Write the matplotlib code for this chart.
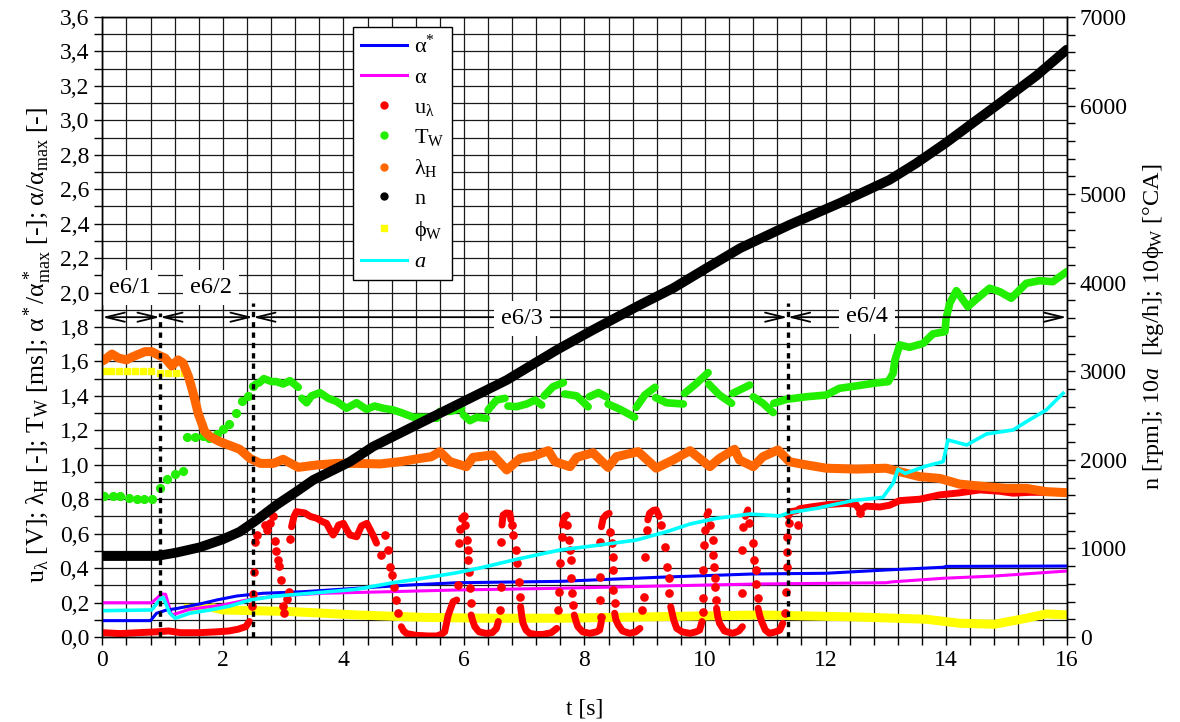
import numpy as np
import matplotlib
matplotlib.use("Agg")
import matplotlib.pyplot as plt
from matplotlib.ticker import MultipleLocator, FuncFormatter
from matplotlib.lines import Line2D

plt.rcParams['font.family'] = ['Liberation Serif', 'DejaVu Serif']
plt.rcParams['mathtext.fontset'] = 'custom'
plt.rcParams['mathtext.rm'] = 'Liberation Serif'
plt.rcParams['mathtext.it'] = 'Liberation Serif:italic'
plt.rcParams['mathtext.bf'] = 'Liberation Serif:bold'

# ---------------- measured series ----------------
# alpha* (blue)
as_t = [0.02, 0.80, 0.90, 1.07, 1.23, 1.62, 1.90, 2.23, 2.67, 3.33, 4.22, 5.10, 5.88, 7.59,
        9.25, 10.8, 12.0, 13.0, 13.95, 14.0, 16.0]
as_v = [0.095, 0.095, 0.138, 0.157, 0.165, 0.192, 0.215, 0.238, 0.254, 0.263, 0.283, 0.302,
        0.315, 0.323, 0.347, 0.366, 0.370, 0.389, 0.405, 0.410, 0.412]

# alpha (magenta)
al_t = [0.02, 0.82, 0.92, 0.98, 1.05, 1.15, 1.23, 1.45, 2.0, 2.45, 2.89, 3.67, 4.77, 5.88,
        7.59, 9.25, 10.9, 13.0, 13.1, 13.95, 14.8, 16.0]
al_v = [0.199, 0.199, 0.230, 0.250, 0.248, 0.128, 0.136, 0.161, 0.186, 0.219, 0.238, 0.254,
        0.263, 0.273, 0.283, 0.296, 0.308, 0.315, 0.320, 0.341, 0.354, 0.383]

# u_lambda (red): dense runs (NaN separates runs) and single samples on the fast edges
ul_run_t = [0.0, 0.3, 0.6, 0.9, 1.1, 1.3, 1.6, 1.9, 2.1, 2.25, 2.38, 2.44, np.nan,
            3.14, 3.18, 3.22, 3.36, 3.45, 3.56, 3.65, 3.72, 3.78, 3.83, 3.88, 3.92, 4.0, 4.06,
            4.11, 4.22, 4.30, 4.39, 4.45, 4.49, 4.55, np.nan,
            4.96, 5.0, 5.05, 5.2, 5.4, 5.55, 5.62, 5.68, 5.74, 5.82, 5.88, np.nan,
            6.12, 6.14, 6.18, 6.25, 6.37, 6.47, 6.54, 6.57, np.nan,
            6.63, 6.65, 6.70, 6.76, 6.78, np.nan,
            6.94, 6.96, 6.98, 7.03, 7.09, 7.2, 7.31, 7.45, 7.54, np.nan,
            7.63, 7.67, 7.71, np.nan,
            7.83, 7.86, 7.89, 7.97, 8.09, 8.2, 8.25, 8.28, np.nan,
            8.28, 8.31, 8.36, 8.41, np.nan,
            8.50, 8.52, 8.56, 8.63, 8.75, 8.85, 8.92, np.nan,
            9.05, 9.08, 9.14, 9.19, 9.24, np.nan,
            9.43, 9.48, 9.53, 9.62, 9.75, 9.85, 9.91, 9.95, np.nan,
            10.03, 10.06, np.nan,
            10.19, 10.21, 10.24, 10.32, 10.46, 10.56, 10.62, np.nan,
            10.67, 10.71, np.nan,
            10.88, 10.91, 10.94, 11.0, 11.07, 11.17, 11.24, 11.29, np.nan,
            11.38, 11.42, 11.52, 11.57, 11.79, 12.07, 12.34, 12.50, 12.57, 12.67, 12.9, 13.06,
            13.23, 13.56, 13.89, 14.22, 14.56, 14.89, 15.11, 15.4, 16.0]
ul_run_v = [0.025, 0.02, 0.025, 0.03, 0.035, 0.025, 0.025, 0.03, 0.035, 0.045, 0.06, 0.09, np.nan,
            0.64, 0.70, 0.728, 0.72, 0.70, 0.689, 0.67, 0.66, 0.62, 0.592, 0.62, 0.65, 0.66, 0.62,
            0.592, 0.582, 0.645, 0.66, 0.62, 0.592, 0.545, np.nan,
            0.06, 0.035, 0.02, 0.01, 0.006, 0.006, 0.015, 0.03, 0.128, 0.205, 0.215, np.nan,
            0.128, 0.10, 0.06, 0.03, 0.021, 0.025, 0.05, 0.09, np.nan,
            0.65, 0.708, 0.72, 0.718, 0.68, np.nan,
            0.176, 0.12, 0.08, 0.04, 0.021, 0.015, 0.015, 0.025, 0.05, np.nan,
            0.65, 0.699, 0.708, np.nan,
            0.128, 0.09, 0.06, 0.03, 0.021, 0.03, 0.04, 0.09, np.nan,
            0.64, 0.689, 0.71, 0.718, np.nan,
            0.138, 0.10, 0.07, 0.035, 0.021, 0.03, 0.05, np.nan,
            0.68, 0.718, 0.735, 0.738, 0.70, np.nan,
            0.176, 0.099, 0.05, 0.03, 0.021, 0.03, 0.04, 0.09, np.nan,
            0.708, 0.728, np.nan,
            0.167, 0.12, 0.08, 0.035, 0.021, 0.035, 0.06, np.nan,
            0.70, 0.738, np.nan,
            0.167, 0.12, 0.089, 0.04, 0.021, 0.03, 0.04, 0.08, np.nan,
            0.70, 0.728, 0.733, 0.745, 0.757, 0.77, 0.776, 0.77, 0.735, 0.76, 0.755, 0.765,
            0.792, 0.80, 0.825, 0.837, 0.854, 0.846, 0.835, 0.84, 0.84]
ul_dot_t = [2.48, 2.50, 2.52, 2.54, 2.56, 2.64, 2.70, 2.73, 2.78, 2.83, 2.86, 2.88, 2.92, 2.93,
            2.96, 2.99, 3.02, 3.06, 3.09, 3.11,
            4.63, 4.69, 4.74, 4.77, 4.80, 4.84, 4.87, 4.91,
            5.90, 5.92, 5.93, 5.97, 6.0, 6.02, 6.05, 6.06, 6.07, 6.09, 6.10, 6.11,
            6.59, 6.61, 6.62,
            6.79, 6.81, 6.87, 6.88, 6.91, 6.93,
            7.56, 7.58, 7.59, 7.62,
            7.71, 7.75, 7.76, 7.77, 7.78, 7.80, 7.81,
            8.28, 8.25, 8.26, 8.25,
            8.42, 8.46, 8.47, 8.47, 8.48, 8.50,
            8.96, 8.99, 9.0, 9.03,
            9.27, 9.33, 9.37, 9.41, 9.41,
            9.97, 9.97, 9.97, 9.98, 10.0,
            10.09, 10.13, 10.14, 10.15, 10.16, 10.17, 10.18,
            10.62, 10.62, 10.63,
            10.73, 10.80, 10.82, 10.84, 10.85, 10.88,
            11.32, 11.35, 11.36, 11.36, 11.36,
            11.40, 11.55, 12.57]
ul_dot_v = [0.18, 0.25, 0.38, 0.55, 0.59, 0.70, 0.65, 0.62, 0.66, 0.70, 0.56, 0.50, 0.45, 0.41,
            0.33, 0.18, 0.14, 0.22, 0.26, 0.567,
            0.476, 0.592, 0.505, 0.408, 0.36, 0.292, 0.215, 0.138,
            0.30, 0.544, 0.63, 0.69, 0.70, 0.65, 0.563, 0.505, 0.447, 0.379, 0.283, 0.196,
            0.157, 0.292, 0.553,
            0.65, 0.592, 0.505, 0.427, 0.321, 0.234,
            0.157, 0.263, 0.428, 0.582,
            0.65, 0.563, 0.505, 0.447, 0.341, 0.254, 0.186,
            0.118, 0.215, 0.35, 0.553,
            0.612, 0.544, 0.466, 0.389, 0.273, 0.196,
            0.157, 0.234, 0.466, 0.621,
            0.65, 0.524, 0.408, 0.341, 0.254,
            0.147, 0.225, 0.389, 0.534, 0.621,
            0.65, 0.563, 0.476, 0.408, 0.341, 0.292, 0.215,
            0.254, 0.505, 0.64,
            0.66, 0.544, 0.447, 0.389, 0.31, 0.225,
            0.138, 0.263, 0.408, 0.495, 0.582,
            0.66, 0.65, 0.72]

# T_W (green): single samples at the start, dense runs afterwards
tw_dot_t = [0.03, 0.17, 0.30, 0.44, 0.57, 0.70, 0.83, 0.96, 1.08, 1.21, 1.34, 1.41, 1.53, 1.67,
            1.77, 1.90, 2.00, 2.11, 2.21, 2.32, 2.42, 2.50]
tw_dot_v = [0.82, 0.82, 0.82, 0.81, 0.80, 0.80, 0.80, 0.867, 0.92, 0.947, 0.966, 1.163, 1.163,
            1.167, 1.154, 1.179, 1.206, 1.237, 1.30, 1.372, 1.40, 1.458]
tw_run_t = [2.55, 2.60, 2.68, 2.81, 2.89, 3.0, 3.11, 3.18, 3.25, np.nan,
            3.31, 3.39, 3.47, 3.61, 3.75, 3.89, 4.05, 4.22, 4.38, 4.52, 4.66, 4.83, 4.99, 5.16,
            5.38, 5.55, 5.60, 5.77, 5.96, np.nan,
            5.99, 6.10, 6.21, 6.37, np.nan,
            6.40, 6.54, 6.68, np.nan,
            6.73, 6.87, 7.04, 7.18, 7.29, np.nan,
            7.33, 7.48, 7.65, np.nan,
            7.67, 7.87, 8.06, np.nan,
            8.08, 8.23, 8.36, np.nan,
            8.39, 8.59, 8.83, np.nan,
            8.86, 9.0, 9.17, np.nan,
            9.18, 9.36, 9.64, np.nan,
            9.66, 9.86, 10.05, np.nan,
            10.06, 10.24, 10.44, np.nan,
            10.46, 10.74, np.nan,
            10.80, 10.96, 11.13, np.nan,
            11.14, 11.35, 11.68, 12.01, 12.23, 12.51, 12.79, 13.04, 13.12, 13.15, 13.23, 13.39,
            13.62, 13.78, 13.98, 14.0, 14.06, 14.17, 14.36, 14.50, 14.72, 14.89, 15.08, 15.33,
            15.55, 15.77, 16.0]
tw_run_v = [1.47, 1.475, 1.50, 1.483, 1.483, 1.469, 1.488, 1.47, 1.45, np.nan,
            1.386, 1.36, 1.40, 1.419, 1.386, 1.367, 1.328, 1.36, 1.322, 1.341, 1.328, 1.318,
            1.299, 1.276, 1.276, 1.27, 1.31, 1.31, 1.328, np.nan,
            1.29, 1.256, 1.276, 1.27, np.nan,
            1.318, 1.376, 1.386, np.nan,
            1.341, 1.337, 1.353, 1.376, 1.347, np.nan,
            1.40, 1.454, 1.477, np.nan,
            1.411, 1.40, 1.337, np.nan,
            1.395, 1.419, 1.395, np.nan,
            1.353, 1.322, 1.276, np.nan,
            1.334, 1.405, 1.45, np.nan,
            1.39, 1.36, 1.353, np.nan,
            1.415, 1.473, 1.535, np.nan,
            1.469, 1.405, 1.357, np.nan,
            1.415, 1.463, np.nan,
            1.395, 1.357, 1.303, np.nan,
            1.357, 1.38, 1.395, 1.405, 1.444, 1.458, 1.473, 1.483, 1.531, 1.608, 1.696, 1.682,
            1.705, 1.76, 1.773, 1.85, 1.938, 2.011, 1.918, 1.961, 2.025, 2.005, 1.967, 2.054,
            2.069, 2.063, 2.121]

# lambda_H (orange)
lh_t = [0.02, 0.16, 0.27, 0.40, 0.49, 0.57, 0.71, 0.82, 0.93, 1.04, 1.15, 1.26, 1.34, 1.43,
        1.50, 1.55, 1.59, 1.65, 1.70, 1.79, 1.95, 2.17, 2.28, 2.45, 2.62, 2.84, 3.0, 3.25,
        3.56, 3.89, 4.22, 4.61, 4.94, 5.27, 5.46, 5.60, 5.77, 6.04, 6.15, 6.48, 6.71, 6.93,
        7.15, 7.40, 7.51, 7.76, 7.87, 8.14, 8.39, 8.53, 8.89, 9.19, 9.47, 9.75, 10.08, 10.24,
        10.49, 10.57, 10.80, 10.96, 11.21, 11.40, 11.62, 12.01, 12.51, 13.0, 13.23, 13.56,
        13.89, 14.22, 14.56, 15.0, 15.33, 15.66, 16.0]
lh_v = [1.605, 1.643, 1.62, 1.609, 1.625, 1.637, 1.657, 1.657, 1.637, 1.62, 1.574, 1.609, 1.59,
        1.512, 1.425, 1.357, 1.299, 1.241, 1.192, 1.163, 1.134, 1.105, 1.09, 1.037, 1.008,
        1.008, 1.032, 0.985, 0.999, 1.008, 1.008, 1.005, 1.018, 1.037, 1.047, 1.076, 1.018,
        0.989, 1.043, 1.057, 0.970, 1.037, 1.05, 1.082, 1.018, 0.989, 1.043, 1.07, 0.985,
        1.047, 1.076, 0.98, 1.028, 1.082, 0.989, 1.037, 1.09, 1.028, 0.989, 1.047, 1.086,
        1.018, 1.003, 0.98, 0.975, 0.98, 0.96, 0.931, 0.921, 0.888, 0.876, 0.863, 0.863,
        0.844, 0.838]

# n (black, rpm)
n_t = [0.0, 0.9, 1.23, 1.62, 2.0, 2.28, 2.56, 2.89, 3.22, 3.5, 4.11, 4.49, 5.6, 6.71, 7.54,
       8.14, 8.92, 9.47, 10.02, 10.58, 11.4, 12.23, 13.06, 13.5, 14.0, 14.5, 14.89, 15.5, 16.0]
n_v = [914, 914, 953, 1013, 1103, 1188, 1320, 1491, 1641, 1773, 1979, 2149, 2526, 2901, 3241,
       3467, 3749, 3938, 4163, 4389, 4653, 4898, 5161, 5347, 5581, 5833, 6028, 6339, 6631]

# phi_W (yellow): single samples at the start, continuous afterwards
pw_dot_t = [0.02, 0.15, 0.28, 0.41, 0.54, 0.67, 0.80, 0.96, 1.09, 1.22, 1.35, 1.40, 1.52,
            1.64, 1.76]
pw_dot_v = [1.547, 1.547, 1.547, 1.547, 1.547, 1.547, 1.547, 1.531, 1.531, 1.531, 1.531,
            0.176, 0.176, 0.176, 0.176]
pw_t = [1.84, 2.0, 3.11, 4.22, 5.32, 6.43, 7.59, 9.25, 10.9, 12.54, 13.67, 14.22, 14.8, 15.33,
        15.66, 16.0]
pw_v = [0.17, 0.157, 0.148, 0.128, 0.114, 0.109, 0.109, 0.118, 0.128, 0.116, 0.103, 0.08,
        0.074, 0.109, 0.134, 0.128]

# a (cyan)
a_t = [0.02, 0.82, 0.96, 1.01, 1.12, 1.21, 1.45, 1.79, 2.12, 2.45, 2.89, 3.56, 4.22, 4.77,
       5.32, 5.88, 6.32, 6.87, 7.59, 8.25, 8.86, 9.36, 9.75, 10.19, 10.74, 11.24, 11.40,
       11.85, 12.45, 12.95, 13.12, 13.20, 13.32, 13.67, 13.95, 14.03, 14.34, 14.67, 15.11,
       15.33, 15.66, 15.94]
a_v = [0.153, 0.157, 0.219, 0.23, 0.138, 0.109, 0.138, 0.157, 0.18, 0.215, 0.238, 0.257,
       0.277, 0.312, 0.341, 0.373, 0.405, 0.451, 0.505, 0.534, 0.563, 0.611, 0.656, 0.689,
       0.714, 0.703, 0.722, 0.747, 0.792, 0.811, 0.893, 0.974, 0.95, 0.993, 1.018, 1.144,
       1.115, 1.179, 1.202, 1.25, 1.318, 1.415]

# test phases
phase_edges = [0.0, 0.957, 2.50, 11.37, 16.0]
phase_names = ['e6/1', 'e6/2', 'e6/3', 'e6/4']

# ---------------- figure ----------------
C_BLUE, C_MAG, C_RED = '#0000ff', '#ff00ff', '#ff0000'
C_GREEN, C_ORANGE, C_YEL, C_CYAN = '#22ee00', '#ff6600', '#ffff00', '#00ffff'

fig = plt.figure(figsize=(11.8, 7.22), dpi=100)
ax = fig.add_axes([102.3 / 1180, 85 / 722, 964.4 / 1180, 620 / 722])
ax2 = ax.twinx()

ax.set_xlim(0, 16)
ax.set_ylim(0, 3.6)
ax2.set_ylim(0, 7000)

ax.xaxis.set_major_locator(MultipleLocator(2))
ax.xaxis.set_minor_locator(MultipleLocator(0.4))
ax.yaxis.set_major_locator(MultipleLocator(0.2))
ax.yaxis.set_minor_locator(MultipleLocator(0.1))
ax.yaxis.set_major_formatter(FuncFormatter(lambda v, p: f'{v:.1f}'.replace('.', ',')))
ax2.yaxis.set_major_locator(MultipleLocator(1000))
ax2.yaxis.set_minor_locator(MultipleLocator(200))

ax.grid(which='both', color='#1a1a1a', lw=0.9)
ax.set_axisbelow(True)
for a_ in (ax, ax2):
    a_.tick_params(which='both', direction='out', length=6, width=1, labelsize=17)
    for s in a_.spines.values():
        s.set_linewidth(1.0)

# curves
ax.plot(pw_t, pw_v, color=C_YEL, lw=6.5, solid_capstyle='round', zorder=2)
ax.plot(pw_dot_t, pw_dot_v, ls='none', marker='s', ms=4.6, color=C_YEL, zorder=2)
ax.plot(al_t, al_v, color=C_MAG, lw=2.2, zorder=3)
ax.plot(as_t, as_v, color=C_BLUE, lw=2.2, zorder=3)
ax.plot(ul_run_t, ul_run_v, color=C_RED, lw=5, solid_capstyle='round',
        solid_joinstyle='round', zorder=4)
ax.plot(ul_dot_t, ul_dot_v, ls='none', marker='o', ms=5.2, color=C_RED, zorder=4)
ax.plot(tw_run_t, tw_run_v, color=C_GREEN, lw=5.5, solid_capstyle='round',
        solid_joinstyle='round', zorder=5)
ax.plot(tw_dot_t, tw_dot_v, ls='none', marker='o', ms=5.6, color=C_GREEN, zorder=5)
ax.plot(lh_t, lh_v, color=C_ORANGE, lw=6.5, solid_capstyle='round',
        solid_joinstyle='round', zorder=6)
ax.plot(a_t, a_v, color=C_CYAN, lw=2.6, zorder=7)
ax2.plot(n_t, n_v, color='black', lw=7, solid_capstyle='round', zorder=3)

# phase boundaries
tops = [1.88, 1.94, 1.94]
for x, top in zip(phase_edges[1:-1], tops):
    ax.plot([x, x], [0, top], color='black', lw=2.4, ls=(0, (1.6, 1.5)), zorder=8)

y_arrow = 1.857
for x0, x1 in zip(phase_edges[:-1], phase_edges[1:]):
    ax.annotate('', xy=(x0, y_arrow), xytext=(x1, y_arrow),
                arrowprops=dict(arrowstyle='<->,head_length=0.9,head_width=0.22',
                                lw=1.3, color='black', shrinkA=0, shrinkB=0,
                                mutation_scale=15), zorder=8)

box = dict(facecolor='white', edgecolor='none', pad=5)
label_pos = [(0.46, 2.03), (1.81, 2.03), (6.97, 1.85), (12.68, 1.86)]
for name, (x, y) in zip(phase_names, label_pos):
    ax.text(x, y, name, ha='center', va='center', fontsize=17.5, bbox=box, zorder=9)

# axis labels
ax.set_xlabel('t [s]', fontsize=17, labelpad=20)
ax.set_ylabel(r'$\mathrm{u_{λ}}$ [V]; $\mathrm{λ_H}$ [-]; $\mathrm{T_W}$ [ms]; '
              r'$\mathrm{α^*/α^*_{max}}$ [-]; $\mathrm{α/α_{max}}$ [-]', fontsize=18.5, labelpad=4)
ax.yaxis.label.set_y(0.471)
ax2.set_ylabel(r'n [rpm]; 10$a$  [kg/h]; 10$\mathrm{ϕ_W}$ [°CA]', fontsize=17.5, labelpad=10)

# legend
handles = [
    Line2D([], [], color=C_BLUE, lw=2.2),
    Line2D([], [], color=C_MAG, lw=2.2),
    Line2D([], [], color=C_RED, ls='none', marker='o', ms=5),
    Line2D([], [], color=C_GREEN, ls='none', marker='o', ms=5),
    Line2D([], [], color=C_ORANGE, ls='none', marker='o', ms=5),
    Line2D([], [], color='black', ls='none', marker='o', ms=5),
    Line2D([], [], color=C_YEL, ls='none', marker='s', ms=5),
    Line2D([], [], color=C_CYAN, lw=2.2),
]
labels = [r'$\mathrm{α}^{*}$', 'α', r'$\mathrm{u_{λ}}$', r'$\mathrm{T_W}$', r'$\mathrm{λ_H}$',
          'n', r'$\mathrm{ϕ_W}$', r'$a$']
leg = ax2.legend(handles, labels, loc='upper left', bbox_to_anchor=(0.26, 0.984),
                 fontsize=16, frameon=True, fancybox=False, framealpha=1,
                 edgecolor='black', handlelength=2.1, handletextpad=0.3,
                 labelspacing=0.42, borderpad=0.35, borderaxespad=0)
leg.get_frame().set_linewidth(1.0)
leg.set_zorder(20)

fig.savefig('out.png', dpi=100)
